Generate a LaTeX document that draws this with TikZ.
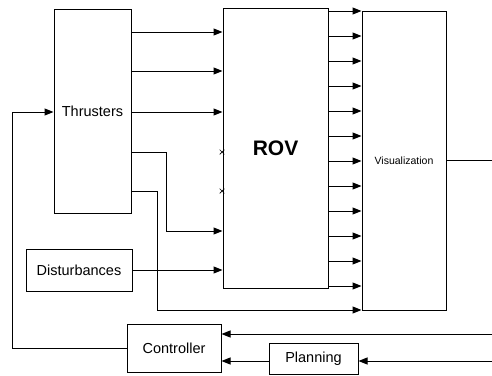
\documentclass[tikz,border=0pt]{standalone}
\usepackage{fontspec}
\setmainfont{Liberation Sans}
\usetikzlibrary{arrows.meta,shapes.misc}

\tikzset{
  simblock/.style={draw, rectangle, line width=1pt, inner sep=0pt, font=\fontsize{14.5}{16}\selectfont},
  simline/.style={line width=1pt},
  simsig/.style={line width=1pt, -{Triangle[length=9pt,width=7pt]}},
  simport/.style={cross out, draw, line width=.7pt, minimum size=4pt, inner sep=0pt}
}

\begin{document}
\begin{tikzpicture}[x=1pt, y=-1pt]
\useasboundingbox (0,0) rectangle (492,375);

\node[simblock, minimum width=77pt, minimum height=204pt] (thr) at (92.5,111) {Thrusters};
\node[simblock, minimum width=105pt, minimum height=280pt, font=\fontsize{21}{24}\selectfont\bfseries] (rov) at (275.5,148) {ROV};
\node[simblock, minimum width=84pt, minimum height=299pt, font=\fontsize{10.5}{12}\selectfont] (vis) at (404,160.5) {Visualization};
\node[simblock, minimum width=106pt, minimum height=42pt] (dist) at (79,270) {Disturbances};
\node[simblock, minimum width=94pt, minimum height=48pt] (ctrl) at (174,348) {Controller};
\node[simblock, minimum width=89pt, minimum height=31pt] (plan) at (313.5,358.5) {Planning};

\node[simport] (p4) at (222,152) {};
\node[simport] (p5) at (222,191) {};

\coordinate (b4a) at (166,152);
\coordinate (b4b) at (166,231);
\coordinate (b5a) at (157,191);
\coordinate (b5b) at (157,310);
\coordinate (fba) at (12,348);
\coordinate (fbb) at (12,112);
\coordinate (visout) at (492,160);
\coordinate (fbin) at (492,334);
\coordinate (planin) at (492,361);

% thrusters to rov
\draw[simsig] (thr.east |- 0,32) -- (rov.west |- 0,32);
\draw[simsig] (thr.east |- 0,71) -- (rov.west |- 0,71);
\draw[simsig] (thr.east |- 0,112) -- (rov.west |- 0,112);
\draw[simsig] (thr.east |- b4a) -- (b4a) -- (b4b) -- (rov.west |- b4b);
\draw[simsig] (thr.east |- b5a) -- (b5a) -- (b5b) -- (vis.west |- b5b);

\draw[simsig] (dist.east) -- (rov.west |- dist.east);

% rov to visualization
\foreach \k in {0,...,11}{
  \draw[simsig] (rov.east |- 0,{11+25*\k}) -- (vis.west |- 0,{11+25*\k});
}
\draw[simline] (vis.east |- visout) -- (visout);

% feedback
\draw[simsig] (ctrl.west) -- (fba) -- (fbb) -- (thr.west |- fbb);
\draw[simsig] (fbin) -- (ctrl.east |- fbin);
\draw[simsig] (planin) -- (plan.east |- planin);
\draw[simsig] (plan.west |- planin) -- (ctrl.east |- planin);
\end{tikzpicture}
\end{document}
